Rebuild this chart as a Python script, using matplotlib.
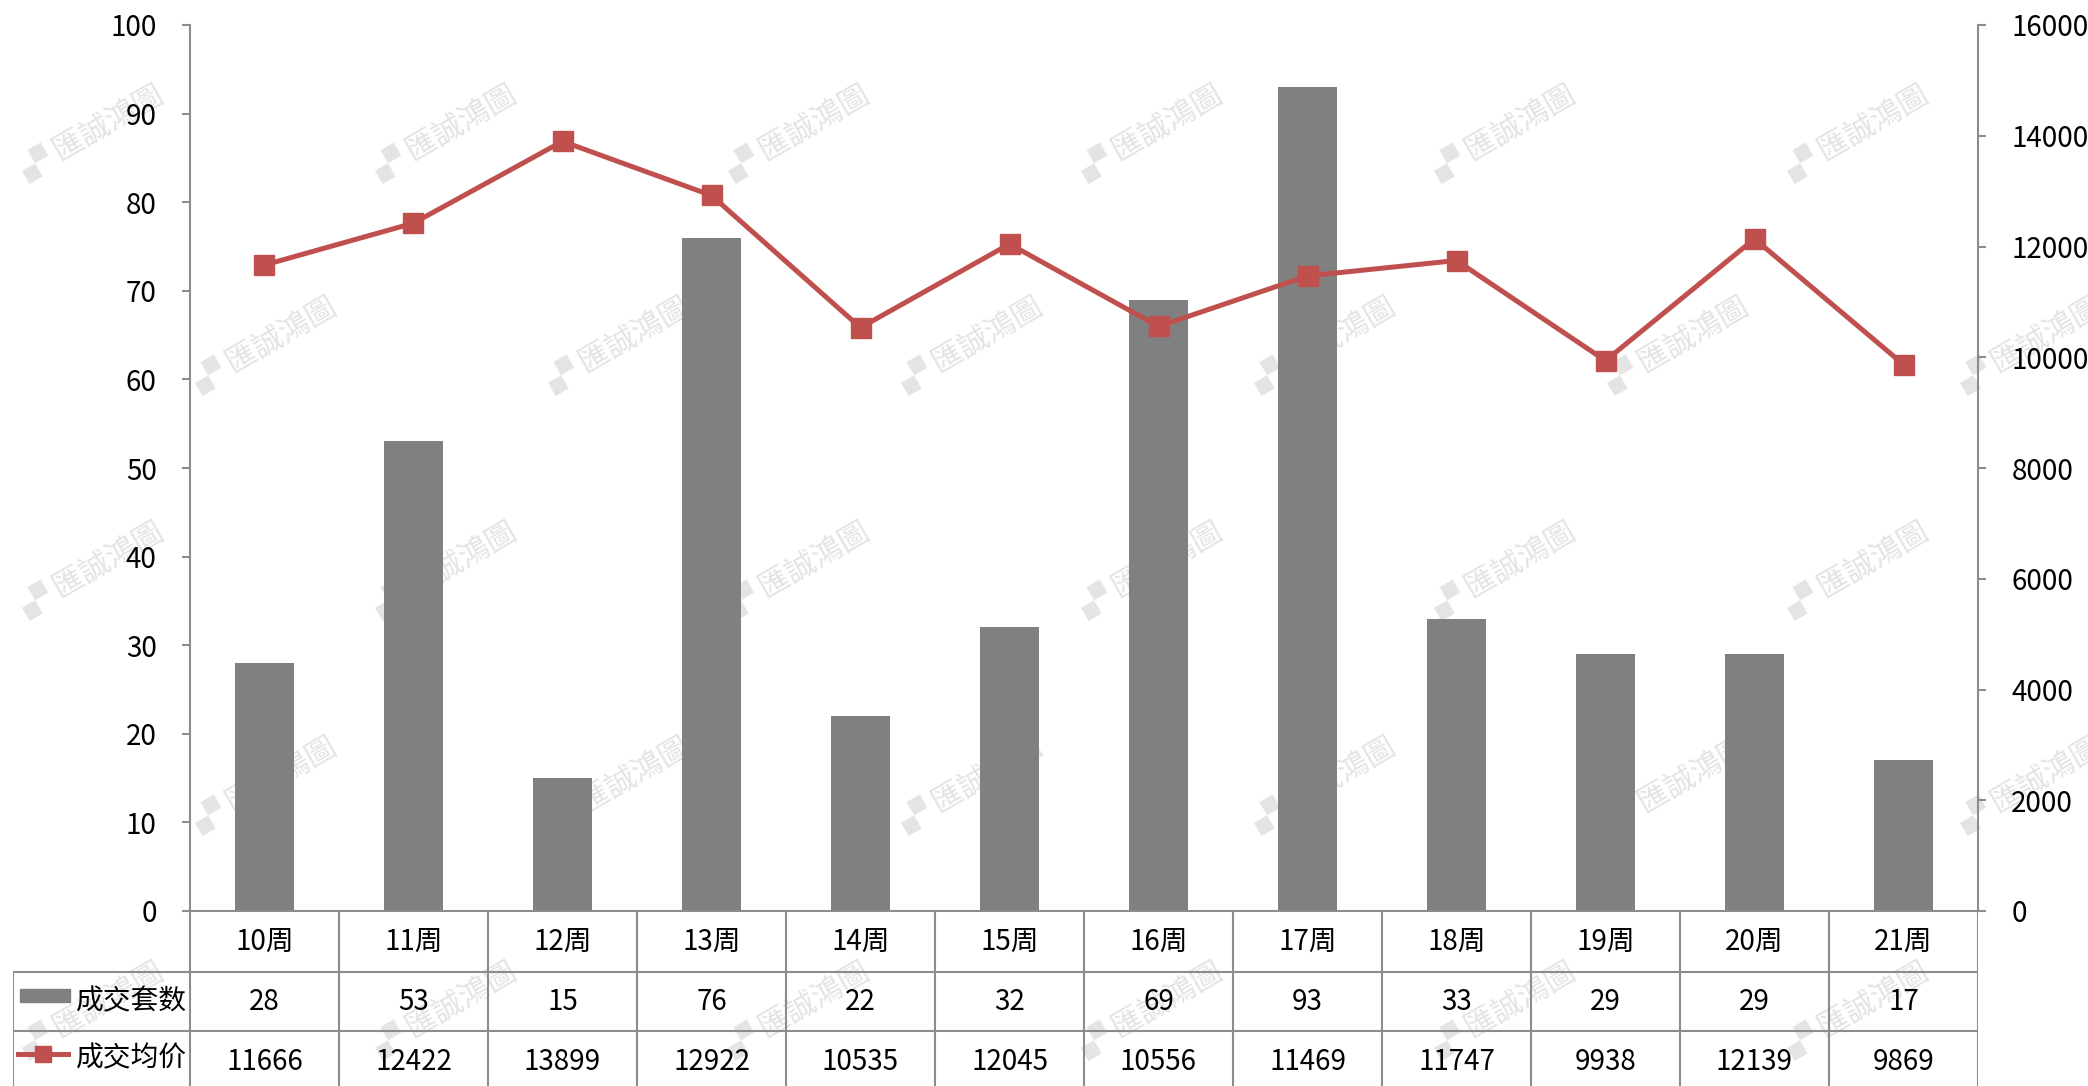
import numpy as np
import matplotlib
matplotlib.use("Agg")
import matplotlib.pyplot as plt
from matplotlib.patches import Rectangle
from matplotlib.lines import Line2D

plt.rcParams['font.family'] = ['Noto Sans CJK SC', 'DejaVu Sans']

# data
weeks = ['10周', '11周', '12周', '13周', '14周', '15周', '16周', '17周', '18周', '19周', '20周', '21周']
deals = [28, 53, 15, 76, 22, 32, 69, 93, 33, 29, 29, 17]
avg_price = [11666, 12422, 13899, 12922, 10535, 12045, 10556, 11469, 11747, 9938, 12139, 9869]
series_names = ['成交套数', '成交均价']

W, H = 2088, 1086
bar_color = '#808080'
line_color = '#C0504D'
grid_color = '#8c8c8c'

fig = plt.figure(figsize=(W / 100, H / 100), dpi=100)

# pixel layout
ax_l, ax_r, ax_t, ax_b = 190, 1978, 25, 911
tab_l = 13

ax = fig.add_axes([ax_l / W, 1 - ax_b / H, (ax_r - ax_l) / W, (ax_b - ax_t) / H])
ax.patch.set_alpha(0)
x = np.arange(len(weeks))
ax.bar(x, deals, width=0.4, color=bar_color, zorder=2)
ax.set_xlim(-0.5, len(weeks) - 0.5)
ax.set_ylim(0, 100)
ax.set_yticks(range(0, 101, 10))
ax.set_xticks([])
for s in ['top', 'right']:
    ax.spines[s].set_visible(False)
ax.spines['left'].set_color(grid_color)
ax.spines['bottom'].set_color(grid_color)
ax.spines['left'].set_linewidth(1.5)
ax.spines['bottom'].set_linewidth(1.5)
ax.tick_params(axis='y', direction='out', length=6, width=1.5, color=grid_color,
               labelsize=20, pad=18)

ax2 = ax.twinx()
ax2.plot(x, avg_price, color=line_color, lw=3.6, marker='s', markersize=14, zorder=3)
ax2.set_ylim(0, 16000)
ax2.set_yticks(range(0, 16001, 2000))
for s in ['top', 'left', 'bottom']:
    ax2.spines[s].set_visible(False)
ax2.spines['right'].set_color(grid_color)
ax2.spines['right'].set_linewidth(1.5)
ax2.tick_params(axis='y', direction='out', length=6, width=1.5, color=grid_color,
                labelsize=20, pad=18)

# table below the chart
col_w = (ax_r - ax_l) / len(weeks)
left_x = -0.5 - (ax_l - tab_l) / col_w
tab = fig.add_axes([tab_l / W, 0, (ax_r - tab_l) / W, (H - ax_b) / H])
tab.set_xlim(left_x, len(weeks) - 0.5)
tab.set_ylim(H - ax_b, 0)
tab.axis('off')
tab.patch.set_alpha(0)

r1, r2, r3 = 61, 120, H - ax_b
for k in range(len(weeks) + 1):
    tab.plot([k - 0.5, k - 0.5], [0, r3], color=grid_color, lw=1.5)
tab.plot([left_x, left_x], [r1, r3], color=grid_color, lw=1.5)
for yy in [r1, r2]:
    tab.plot([left_x, len(weeks) - 0.5], [yy, yy], color=grid_color, lw=1.5)

for i in range(len(weeks)):
    tab.text(i, r1 / 2, weeks[i], ha='center', va='center', fontsize=20)
    tab.text(i, (r1 + r2) / 2, str(deals[i]), ha='center', va='center', fontsize=20)
    tab.text(i, (r2 + r3) / 2 + 3, str(avg_price[i]), ha='center', va='center', fontsize=20)

# legend keys in table
sw = 50 / col_w
tab.add_patch(Rectangle((left_x + 7 / col_w, (r1 + r2) / 2 - 13), sw, 13, color=bar_color))
tab.text(left_x + 63 / col_w, (r1 + r2) / 2, series_names[0], ha='left', va='center', fontsize=20)
ky = (r2 + r3) / 2 - 5
tab.plot([left_x + 5 / col_w, left_x + 55 / col_w], [ky, ky], color=line_color, lw=3.6)
tab.plot([left_x + 30 / col_w], [ky], color=line_color, marker='s', markersize=12)
tab.text(left_x + 63 / col_w, (r2 + r3) / 2, series_names[1], ha='left', va='center', fontsize=20)

# watermark
wm_x = [93, 446, 799, 1152, 1505, 1858]
wm_rows = [133, 345, 570, 785, 1010]
for j, yy in enumerate(wm_rows):
    off = 0 if j % 2 == 0 else 173
    for xx in wm_x:
        fig.text((xx + off) / W, 1 - yy / H, '▞ 匯誠鴻圖', fontsize=22, color='#e4e4e4',
                 rotation=30, ha='center', va='center', zorder=-1,
                 family=['Noto Sans CJK TC', 'DejaVu Sans'])

fig.savefig('out.png', dpi=100, facecolor='white')
